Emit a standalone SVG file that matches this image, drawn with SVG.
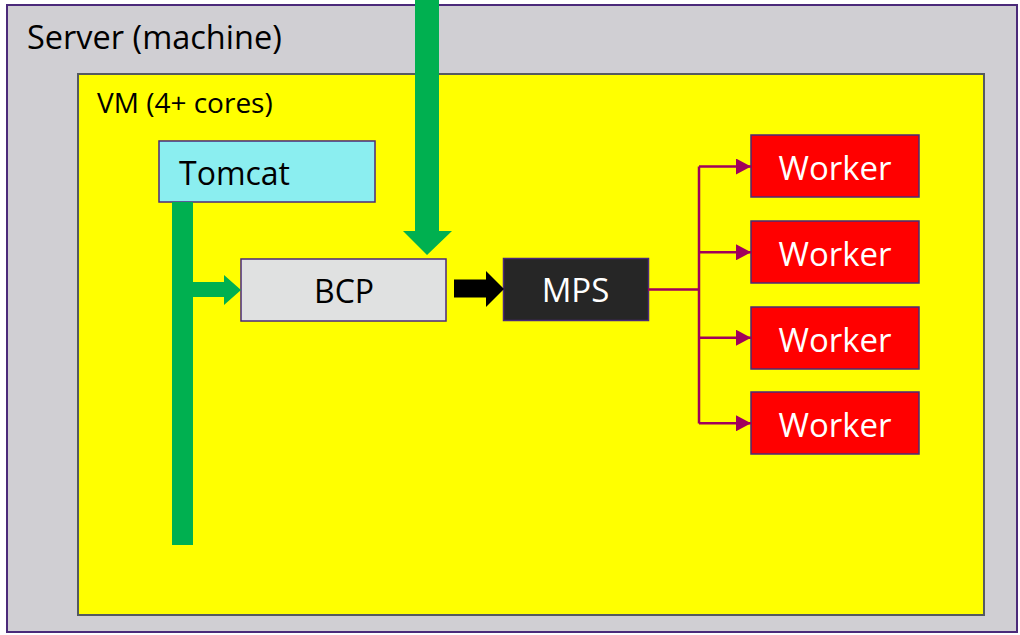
<svg xmlns="http://www.w3.org/2000/svg" width="1020" height="635" viewBox="0 0 1020 635">
<style>
text{font-family:"Open Sans","Liberation Sans",sans-serif}
.box{stroke:#4b2a7a;stroke-width:1.5}
.wk{fill:#ff0000;stroke:#4b2a7a;stroke-width:1.5}
.wt{font-size:33px;fill:#fff;text-anchor:middle}
.pl{stroke:#a0005c;stroke-width:2.5;fill:none}
</style>
<defs>
<marker id="ph" markerWidth="15" markerHeight="16" refX="15" refY="8" orient="auto" markerUnits="userSpaceOnUse">
<path d="M0,0 L15,8 L0,16 Z" fill="#a0005c"/>
</marker>
</defs>
<rect width="1020" height="635" fill="#ffffff"/>
<g id="server">
<rect x="7" y="5" width="1010" height="627" fill="#d0cfd3" stroke="#4b2a7a" stroke-width="2"/>
<text x="27" y="49" style="font-size:32.5px">Server (machine)</text>
</g>
<g id="vm">
<rect x="78" y="74" width="906" height="541" fill="#ffff00" stroke="#555a60" stroke-width="2"/>
<text x="97" y="113" style="font-size:28px">VM (4+ cores)</text>
</g>
<g id="tomcat">
<rect x="159" y="141" width="216" height="61" fill="#8beef0" class="box"/>
<text x="179" y="185" style="font-size:32px">Tomcat</text>
</g>
<g id="bcp">
<rect x="241" y="259" width="205" height="62" fill="#e0e1e1" class="box"/>
<text x="344" y="303" style="font-size:32px" text-anchor="middle">BCP</text>
</g>
<g id="mps">
<rect x="503.5" y="258.5" width="145" height="62" fill="#262626" class="box"/>
<text x="575.5" y="302" style="font-size:33px;fill:#fff" text-anchor="middle">MPS</text>
</g>
<g id="worker1">
<rect x="751" y="135" width="168" height="62" class="wk"/>
<text x="835" y="180" class="wt">Worker</text>
</g>
<g id="worker2">
<rect x="751" y="221" width="168" height="62" class="wk"/>
<text x="835" y="266" class="wt">Worker</text>
</g>
<g id="worker3">
<rect x="751" y="307" width="168" height="62" class="wk"/>
<text x="835" y="352" class="wt">Worker</text>
</g>
<g id="worker4">
<rect x="751" y="392" width="168" height="62" class="wk"/>
<text x="835" y="437" class="wt">Worker</text>
</g>
<g id="connectors">
<rect x="172" y="202" width="21" height="343" fill="#00b050"/>
<path d="M193,282 L224,282 L224,275 L241,290 L224,305 L224,297 L193,297 Z" fill="#00b050"/>
<path d="M415,0 L439,0 L439,231 L452,231 L427,255 L403,231 L415,231 Z" fill="#00b050"/>
<path d="M454,279.5 L486,279.5 L486,271 L504,289 L486,307 L486,297.5 L454,297.5 Z" fill="#000"/>
<path class="pl" d="M648,289.5 L699,289.5 M699,166.5 L699,423.5"/>
<path class="pl" d="M699,166.5 L751,166.5" marker-end="url(#ph)"/>
<path class="pl" d="M699,252.3 L751,252.3" marker-end="url(#ph)"/>
<path class="pl" d="M699,337.7 L751,337.7" marker-end="url(#ph)"/>
<path class="pl" d="M699,423.3 L751,423.3" marker-end="url(#ph)"/>
</g>
</svg>
